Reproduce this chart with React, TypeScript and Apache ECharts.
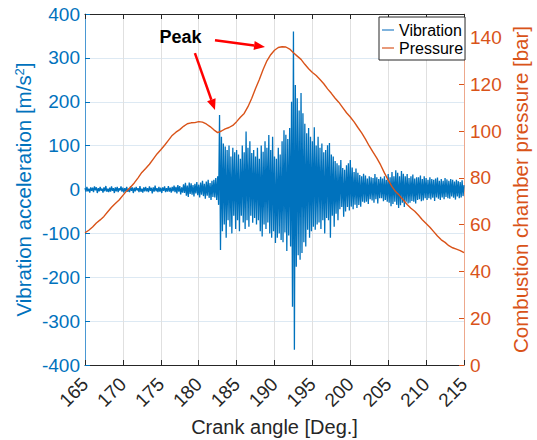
import React, { useEffect, useRef } from "react";
import * as echarts from "echarts";

// ---------- data ----------
const ANGLE_START = 165;
const ANGLE_END = 215;
const VIB_STEP = 0.125; // deg between vibration samples
const PRESSURE_STEP = 0.5; // deg between pressure samples

// Vibration acceleration [m/s^2], one row per crank-angle degree (165 .. 214), 8 samples each, plus 215
const vibration: number[] = [
  3, -5, 6, -4, 2, -7, 5, -3,
  4, -6, 7, -2, 5, -8, 3, -4,
  6, -3, 2, -7, 5, -4, 8, -5,
  2, -6, 4, -5, 7, -3, 3, -8,
  5, -4, 6, -6, 3, -2, 7, -5,
  4, -7, 3, -4, 6, -5, 2, -6,
  7, -3, 5, -8, 4, -4, 6, -2,
  3, -6, 8, -5, 2, -7, 5, -4,
  6, -4, 3, -6, 7, -3, 4, -9,
  5, -5, 9, -4, 3, -6, 6, -5,
  4, -8, 5, -3, 7, -6, 3, -5,
  8, -5, 4, -7, 6, -4, 9, -6,
  6, -9, 10, -5, 8, -11, 5, -7,
  12, -8, 15, -14, 9, -17, 16, -10,
  14, -12, 10, -16, 13, -9, 17, -13,
  11, -18, 16, -12, 20, -15, 13, -21,
  18, -14, 22, -19, 15, -24, 20, -17,
  22, -18, 26, -24, 30, -35, 170, -138,
  120, -95, 105, -80, 98, -110, 90, -70,
  100, -85, 75, -100, 95, -60, 85, -90,
  90, -70, 80, -95, 70, -60, 100, -75,
  85, -90, 132, -70, 95, -85, 110, -60,
  83, -76, 90, -65, 75, -80, 95, -70,
  70, -95, 100, -107, 86, -80, 110, -90,
  95, -75, 124, -100, 90, -110, 120, -95,
  75, -122, 70, -110, 95, -100, 80, -115,
  110, -120, 135, -98, 125, -140, 115, -105,
  140, -130, 200, -267, 360, -365, 238, -176,
  208, -150, 180, -160, 220, -145, 174, -120,
  150, -130, 128, -92, 140, -110, 120, -95,
  110, -85, 142, -92, 100, -80, 120, -75,
  95, -90, 105, -70, 85, -100, 90, -65,
  101, -70, 106, -110, 80, -60, 75, -85,
  65, -55, 60, -70, 55, -45, 67, -40,
  49, -62, 45, -50, 55, -40, 60, -48,
  67, -39, 50, -45, 40, -35, 48, -42,
  38, -35, 33, -39, 30, -28, 36, -30,
  32, -28, 25, -33, 30, -22, 28, -25,
  26, -30, 35, -22, 28, -32, 24, -20,
  29, -20, 25, -27, 30, -24, 22, -28,
  35, -30, 28, -38, 40, -33, 30, -28,
  44, -35, 38, -42, 30, -36, 42, -30,
  36, -40, 30, -28, 35, -32, 26, -30,
  30, -26, 34, -28, 25, -32, 28, -24,
  28, -22, 32, -27, 24, -25, 30, -20,
  26, -24, 22, -20, 28, -23, 24, -19,
  22, -26, 25, -18, 27, -21, 20, -24,
  24, -18, 20, -22, 26, -17, 23, -20,
  20, -21, 24, -16, 22, -19, 18, -23,
  22, -16, 19, -20, 17, -18, 21, -15,
  10,
];

// Combustion chamber pressure [bar], every 0.5 deg from 165 to 215
const pressure: number[] = [
  56.5, 57.6, 59, 60.7, 62, 63.5, 65.5, 67.4, 69, 70.5,
  72.5, 74.4, 76, 77.8, 80, 82.3, 84, 85.8, 88, 90.2,
  92, 93.9, 96, 98.1, 99.5, 100.6, 102, 103.1, 103.5, 103.6,
  104, 103.8, 103, 101.9, 100.5, 99.3, 100, 100.9, 101.5, 102.4,
  104, 105.9, 107.5, 110.4, 114, 118.2, 122, 126.3, 130, 132.6,
  134.5, 135.7, 136, 135.9, 135, 133.4, 132, 130.6, 128.5, 126.6,
  125, 123.7, 122, 120.2, 118, 116.1, 114, 112.2, 110, 107.8,
  106, 103.9, 101.5, 99.2, 96.5, 93.6, 91, 88.4, 85.5, 82.1,
  79, 76.2, 74, 72.4, 70.5, 68.6, 67, 65.7, 64, 62.1,
  60.5, 58.9, 57, 55.1, 53.5, 52.4, 51, 50.1, 49.5, 48.9,
  48,
];

const rightTickValues = [0, 20, 40, 60, 80, 100, 120, 140];

// annotation: "Peak" label and arrows, in data coordinates (angle, vibration axis)
const peakLabelAt = [177.6, 348];
const arrows = [
  { from: [179.5, 311], to: [182.15, 181] },
  { from: [182.15, 340], to: [188.75, 325] },
];

const FONT = "Liberation Sans";
const BLUE = "#0072BD";
const ORANGE = "#D95319";
const DARK = "#262626";

export default function App() {
  const ref = useRef<HTMLDivElement>(null);

  useEffect(() => {
    document.body.style.margin = "0";
    if (!ref.current) return;
    const chart = echarts.init(ref.current, undefined, { renderer: "svg" });

    const vibData = vibration.map((v, i) => [ANGLE_START + i * VIB_STEP, v]);
    const presData = pressure.map((p, i) => [ANGLE_START + i * PRESSURE_STEP, p]);

    chart.setOption({
      animation: false,
      textStyle: { fontFamily: FONT },
      grid: {
        left: 85,
        right: 73,
        top: 14,
        bottom: 75,
        containLabel: false,
        outerBoundsMode: "none",
      },
      legend: {
        orient: "vertical",
        left: 379,
        top: 17,
        padding: [5, 2, 4, 3],
        itemGap: 2,
        itemWidth: 12,
        itemHeight: 2,
        icon: "rect",
        borderColor: DARK,
        borderWidth: 1,
        backgroundColor: "#ffffff",
        textStyle: { fontSize: 16, color: "#000", fontFamily: FONT },
        data: [
          { name: "Vibration", itemStyle: { color: "#7FB3DD" } },
          { name: "Pressure", itemStyle: { color: "#E89A7A" } },
        ],
      },
      xAxis: [
        {
          type: "value",
          min: ANGLE_START,
          max: ANGLE_END,
          interval: 5,
          position: "bottom",
          axisLine: { onZero: false, lineStyle: { color: DARK, width: 1 } },
          axisTick: { inside: true, length: 5, lineStyle: { color: DARK } },
          axisLabel: {
            rotate: 45,
            fontSize: 19,
            color: DARK,
            margin: 16,
            padding: [6, 0, 0, 0],
            fontFamily: FONT,
          },
          splitLine: { show: true, lineStyle: { color: "#E0E0E0", width: 1 } },
          name: "Crank angle [Deg.]",
          nameLocation: "middle",
          nameGap: 52,
          nameMoveOverlap: false,
          nameTextStyle: {
            fontSize: 20,
            color: DARK,
            fontFamily: FONT,
            verticalAlign: "top",
          },
        },
        {
          type: "value",
          min: ANGLE_START,
          max: ANGLE_END,
          interval: 5,
          position: "top",
          axisLine: { onZero: false, lineStyle: { color: DARK, width: 1 } },
          axisTick: { inside: true, length: 5, lineStyle: { color: DARK } },
          axisLabel: { show: false },
          splitLine: { show: false },
        },
      ],
      yAxis: [
        {
          type: "value",
          min: -400,
          max: 400,
          interval: 100,
          position: "left",
          axisLine: { show: true, onZero: false, lineStyle: { color: "#4A98D3", width: 1 } },
          axisTick: { show: true, inside: true, length: 5, lineStyle: { color: BLUE } },
          axisLabel: { fontSize: 19, color: BLUE, margin: 5, fontFamily: FONT },
          splitLine: { show: true, lineStyle: { color: "#DDE9F3", width: 1 } },
          name: "Vibration acceleration [m/s{sup|2}]",
          nameLocation: "middle",
          nameRotate: 90,
          nameGap: 51,
          nameMoveOverlap: false,
          nameTextStyle: {
            fontSize: 20.5,
            color: BLUE,
            fontFamily: FONT,
            rich: {
              sup: {
                fontSize: 13,
                color: BLUE,
                fontFamily: FONT,
                verticalAlign: "top",
                lineHeight: 14,
              },
            },
          },
        },
        {
          type: "value",
          min: 0,
          max: 150,
          interval: 10,
          position: "right",
          axisLine: { show: true, onZero: false, lineStyle: { color: "#EDA88C", width: 1 } },
          axisTick: {
            show: true,
            inside: true,
            length: 5,
            customValues: rightTickValues,
            lineStyle: { color: ORANGE },
          },
          axisLabel: {
            fontSize: 19,
            color: ORANGE,
            margin: 6,
            fontFamily: FONT,
            customValues: rightTickValues,
          },
          splitLine: { show: false },
          name: "Combustion chamber pressure [bar]",
          nameLocation: "middle",
          nameRotate: 90,
          nameGap: 46,
          nameMoveOverlap: false,
          nameTextStyle: { fontSize: 20.5, color: ORANGE, fontFamily: FONT },
        },
      ],
      series: [
        {
          name: "Vibration",
          type: "line",
          xAxisIndex: 0,
          yAxisIndex: 0,
          data: vibData,
          symbol: "none",
          showSymbol: false,
          lineStyle: { color: BLUE, width: 1.3 },
          itemStyle: { color: BLUE },
          z: 2,
        },
        {
          name: "Pressure",
          type: "line",
          xAxisIndex: 0,
          yAxisIndex: 1,
          data: presData,
          symbol: "none",
          showSymbol: false,
          lineStyle: { color: ORANGE, width: 1.4 },
          itemStyle: { color: ORANGE },
          z: 3,
        },
      ],
    });

    const px = (p: number[]) =>
      chart.convertToPixel({ xAxisIndex: 0, yAxisIndex: 0 }, p) as number[];

    const elements: any[] = [];
    const lbl = px(peakLabelAt);
    elements.push({
      type: "text",
      x: lbl[0],
      y: lbl[1],
      z: 100,
      style: {
        text: "Peak",
        font: `bold 18px "${FONT}"`,
        fill: "#000",
        textAlign: "center",
        textVerticalAlign: "middle",
      },
    });
    arrows.forEach((a) => {
      const s = px(a.from);
      const t = px(a.to);
      const dx = t[0] - s[0];
      const dy = t[1] - s[1];
      const len = Math.sqrt(dx * dx + dy * dy);
      const ux = dx / len;
      const uy = dy / len;
      const headL = 11;
      const headW = 4.5;
      const bx = t[0] - ux * headL;
      const by = t[1] - uy * headL;
      elements.push({
        type: "line",
        z: 100,
        shape: { x1: s[0], y1: s[1], x2: bx, y2: by },
        style: { stroke: "#FF0000", lineWidth: 2.5 },
      });
      elements.push({
        type: "polygon",
        z: 100,
        shape: {
          points: [
            [t[0], t[1]],
            [bx - uy * headW, by + ux * headW],
            [bx + uy * headW, by - ux * headW],
          ],
        },
        style: { fill: "#FF0000" },
      });
    });
    chart.setOption({ graphic: { elements } });

    return () => chart.dispose();
  }, []);

  return (
    <div
      ref={ref}
      style={{ position: "absolute", left: 0, top: 0, width: 537, height: 440 }}
    />
  );
}
